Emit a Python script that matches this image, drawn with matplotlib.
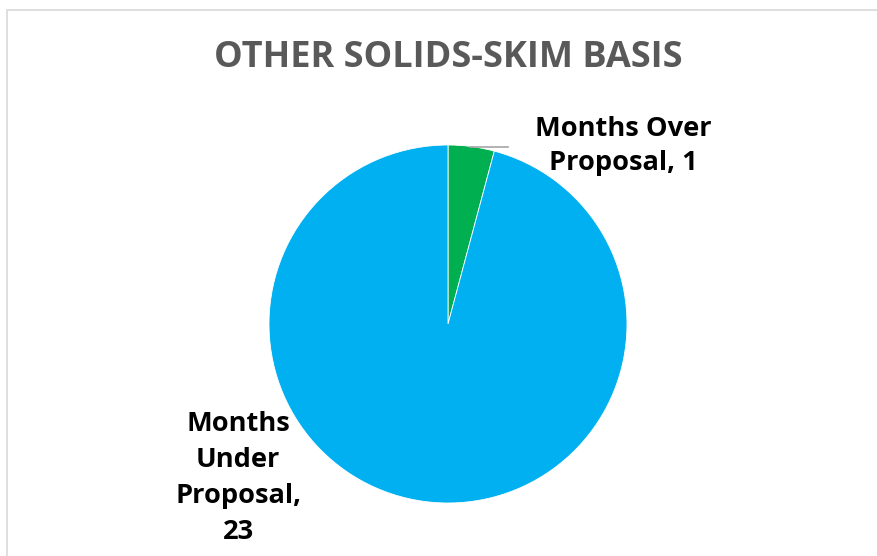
import matplotlib.pyplot as plt
from matplotlib.patches import Rectangle

# data
labels = ["Months Over\nProposal, 1", "Months\nUnder\nProposal,\n23"]
values = [1, 23]
colors = ["#00B050", "#00B0F0"]
title = "OTHER SOLIDS-SKIM BASIS"

W, H = 878, 556
fig = plt.figure(figsize=(W / 100, H / 100), dpi=100)
fig.patch.set_facecolor("white")

# chart border
fig.patches.append(Rectangle((7 / W, -0.01), 1.0, (H - 10) / H + 0.01,
                             transform=fig.transFigure, fill=False,
                             edgecolor="#d9d9d9", lw=1.2))

cx, cy, r = 448, 556 - 324, 179
ax = fig.add_axes([(cx - r) / W, (cy - r) / H, 2 * r / W, 2 * r / H])
ax.pie(values, colors=colors, startangle=90, counterclock=False, radius=1,
       wedgeprops=dict(edgecolor="white", linewidth=0.6))
ax.set_xlim(-1, 1)
ax.set_ylim(-1, 1)
ax.axis("off")

# leader line for the small slice
ax.plot([0.123, 0.335], [0.989, 0.989], color="#a6a6a6", lw=1.2, clip_on=False)

fnt = dict(family="Open Sans", weight="bold", fontsize=19.6, color="black",
           ha="center", va="center")
ax.text(0.978, 0.994, labels[0], linespacing=1.37, **fnt)
ax.text(-1.173, -0.858, labels[1], linespacing=1.5, **fnt)

fig.text(448 / W, 1 - 58 / H, title, family="Open Sans", weight="bold",
         fontsize=26, color="#595959", ha="center", va="center")

fig.savefig("out.png", dpi=100)
